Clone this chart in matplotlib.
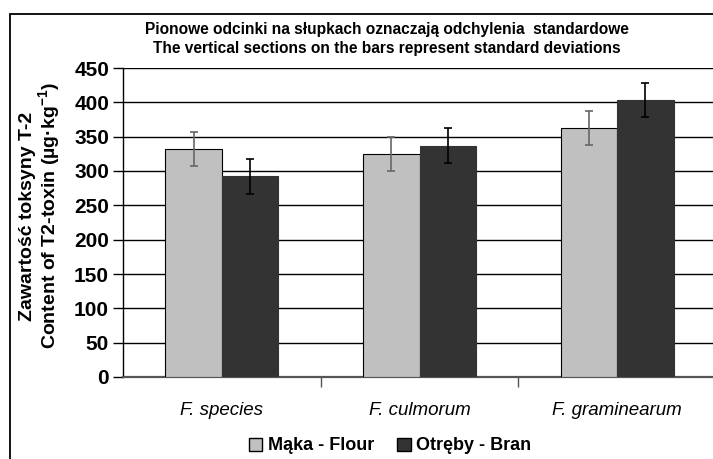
import numpy as np
import matplotlib
matplotlib.use("Agg")
import matplotlib.pyplot as plt
from matplotlib.patches import Rectangle

plt.rcParams['font.family'] = ['Liberation Sans', 'DejaVu Sans']
plt.rcParams['mathtext.fontset'] = 'custom'
plt.rcParams['mathtext.rm'] = 'Liberation Sans:bold'
plt.rcParams['mathtext.bf'] = 'Liberation Sans:bold'

# data
categories = ["F. species", "F. culmorum", "F. graminearum"]
flour = [332, 325, 363]
bran = [292, 337, 403]
flour_sd = [25, 25, 25]
bran_sd = [25, 25, 25]
yticks = [0, 50, 100, 150, 200, 250, 300, 350, 400, 450]

fig = plt.figure(figsize=(7.13, 4.59), dpi=100)
W, H = 713, 459

# outer chart frame (right and bottom edges cut off in the original)
fig.patches.append(Rectangle((10 / W, -0.1), 1.2, 1 - 14 / H + 0.1,
                             transform=fig.transFigure, fill=False,
                             edgecolor='black', linewidth=1.3))

# plot area: left 123, right 716 (beyond the image), top 68, bottom 377
ax = fig.add_axes([123 / W, 1 - 377 / H, (716 - 123) / W, (377 - 68) / H])

x = np.arange(len(categories))
w = 1 / 3.5
ax.bar(x - w / 2, flour, w, color='#c0c0c0', edgecolor='black', linewidth=0.8,
       zorder=3)
ax.bar(x + w / 2, bran, w, color='#333333', edgecolor='#333333', linewidth=0.8,
       zorder=3)
ax.errorbar(x - w / 2, flour, yerr=flour_sd, fmt='none', ecolor='#666666',
            elinewidth=1.2, capsize=3, capthick=1.2, zorder=4)
ax.errorbar(x + w / 2, bran, yerr=bran_sd, fmt='none', ecolor='black',
            elinewidth=1.2, capsize=3, capthick=1.2, zorder=4)

ax.set_xlim(-0.5, 2.5)
ax.set_ylim(0, 450)
ax.set_yticks(yticks)
ax.set_yticklabels([str(t) for t in yticks], fontsize=15, fontweight='bold')
ax.yaxis.grid(True, color='black', linewidth=1.0, zorder=0)
ax.set_axisbelow(True)

ax.set_xticks([0.5, 1.5, 2.5])
ax.set_xticklabels([])
ax.set_xticks(x, minor=True)
ax.set_xticklabels(categories, minor=True, fontsize=13.5, style='italic')
ax.tick_params(axis='x', which='minor', length=0, pad=18)
ax.tick_params(axis='x', which='major', length=7, width=1, color='#555555')
ax.tick_params(axis='y', length=7, width=1, pad=3)

for s in ['top', 'right']:
    ax.spines[s].set_visible(False)
ax.spines['left'].set_linewidth(1.0)
ax.spines['bottom'].set_color('#555555')
ax.spines['bottom'].set_linewidth(1.6)

fig.text(387 / W, 1 - 39 / H,
         "Pionowe odcinki na słupkach oznaczają odchylenia  standardowe\n"
         "The vertical sections on the bars represent standard deviations",
         ha='center', va='center', fontsize=11.2, fontweight='bold',
         linespacing=1.35)

fig.text(41 / W, 1 - 216 / H,
         "Zawartość toksyny T-2\nContent of T2-toxin (µg·kg$^{-1}$)",
         ha='center', va='center', rotation=90, fontsize=14,
         fontweight='bold', linespacing=1.0)

# legend
handles = [Rectangle((0, 0), 1, 1, facecolor='#c0c0c0', edgecolor='black'),
           Rectangle((0, 0), 1, 1, facecolor='#333333', edgecolor='black')]
fig.legend(handles, ["Mąka - Flour", "Otręby - Bran"], loc='center',
           bbox_to_anchor=(390 / W, 1 - 446 / H), ncol=2, frameon=False,
           prop={'size': 13, 'weight': 'bold'}, handlelength=0.75,
           handleheight=0.75, handletextpad=0.3, columnspacing=1.3)

fig.savefig("out.png", dpi=100)
